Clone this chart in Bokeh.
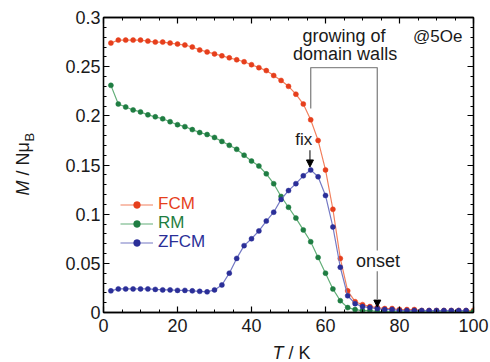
import math
from bokeh.plotting import figure
from bokeh.models import (LinearAxis, FixedTicker, Label, Arrow, NormalHead,
                          Legend, LegendItem, Range1d)
from bokeh.embed import file_html
from bokeh.resources import INLINE

# ---------------- data ----------------
T_fcm = [2, 4, 6, 8, 10, 12, 14, 16, 18, 20, 22, 24, 26, 28, 30, 32, 34, 36, 38, 40,
         42, 44, 46, 48, 50, 52, 54, 56, 58, 60, 62, 64, 66, 68, 70, 72, 74, 76, 78, 80,
         82, 84, 86, 88, 90, 92, 94, 96, 98, 100]
M_fcm = [0.274, 0.277, 0.277, 0.277, 0.277, 0.276, 0.275, 0.275, 0.274, 0.273,
         0.272, 0.270, 0.267, 0.265, 0.263, 0.261, 0.259, 0.257, 0.255, 0.252,
         0.249, 0.246, 0.241, 0.236, 0.230, 0.222, 0.212, 0.196, 0.175, 0.145,
         0.105, 0.055, 0.022, 0.011, 0.008, 0.006, 0.005, 0.004, 0.004, 0.003,
         0.003, 0.003, 0.002, 0.002, 0.002, 0.002, 0.002, 0.002, 0.002, 0.002]

T_rm = [2, 4, 6, 8, 10, 12, 14, 16, 18, 20, 22, 24, 26, 28, 30, 32, 34, 36, 38, 40,
        42, 44, 46, 48, 50, 52, 54, 56, 58, 60, 62, 64, 66, 68, 70, 72, 74, 76, 78, 80,
        82, 84, 86, 88, 90, 92, 94, 96, 98, 100]
M_rm = [0.231, 0.212, 0.209, 0.206, 0.204, 0.201, 0.199, 0.197, 0.194, 0.191,
        0.189, 0.186, 0.183, 0.181, 0.178, 0.174, 0.170, 0.166, 0.160, 0.154,
        0.149, 0.141, 0.131, 0.118, 0.107, 0.096, 0.084, 0.072, 0.056, 0.040,
        0.024, 0.012, 0.005, 0.003, 0.002, 0.002, 0.001, 0.001, 0.001, 0.001,
        0.001, 0.001, 0.001, 0.001, 0.001, 0.001, 0.001, 0.001, 0.001, 0.001]

T_zfcm = [2, 4, 6, 8, 10, 12, 14, 16, 18, 20, 22, 24, 26, 28, 30, 32, 34, 36, 38, 40,
          42, 44, 46, 48, 50, 52, 54, 56, 58, 60, 62, 64, 66, 68, 70, 72, 74, 76, 78, 80,
          82, 84, 86, 88, 90, 92, 94, 96, 98]
M_zfcm = [0.022, 0.024, 0.024, 0.024, 0.024, 0.024, 0.0235, 0.023, 0.023, 0.0225,
          0.0225, 0.022, 0.0215, 0.021, 0.023, 0.028, 0.040, 0.055, 0.068, 0.075,
          0.083, 0.093, 0.102, 0.115, 0.124, 0.131, 0.139, 0.145, 0.138, 0.119,
          0.087, 0.046, 0.017, 0.009, 0.006, 0.005, 0.004, 0.003, 0.003, 0.002,
          0.002, 0.002, 0.002, 0.002, 0.002, 0.002, 0.002, 0.002, 0.002]

x_ticks = [0, 20, 40, 60, 80, 100]
x_tick_labels = ["0", "20", "40", "60", "80", "100"]
y_ticks = [0, 0.05, 0.1, 0.15, 0.2, 0.25, 0.3]
y_tick_labels = ["0", "0.05", "0.1", "0.15", "0.2", "0.25", "0.3"]
x_minor = [5 * i for i in range(21)]
y_minor = [round(0.01 * i, 2) for i in range(31)]

series_names = ["FCM", "RM", "ZFCM"]
marker_colors = ["#e63f1c", "#1f7d42", "#2b2f98"]
line_colors = ["#f2805e", "#62ae78", "#7479c4"]

FONT = "Liberation Sans"
INK = "#1a1a1a"

# ---------------- figure ----------------
p = figure(width=490, height=362, output_backend="svg", toolbar_location=None,
           x_range=Range1d(0, 100), y_range=Range1d(0, 0.3),
           x_axis_type=None, y_axis_type=None,
           min_border_left=103, min_border_right=17, min_border_top=17, min_border_bottom=50)
p.grid.visible = False
p.outline_line_color = "black"
p.outline_line_width = 1.3
p.background_fill_color = "white"
p.border_fill_color = "white"


def make_axis(ticks, minor, labels, show, standoff=6):
    ax = LinearAxis(ticker=FixedTicker(ticks=ticks, minor_ticks=minor))
    ax.major_tick_in = 6
    ax.major_tick_out = 0
    ax.minor_tick_in = 3
    ax.minor_tick_out = 0
    ax.axis_line_color = "black"
    ax.axis_line_width = 1.3
    ax.major_tick_line_color = "black"
    ax.minor_tick_line_color = "black"
    ax.major_tick_line_width = 1.2
    ax.minor_tick_line_width = 1.0
    if show:
        ax.major_label_overrides = {t: l for t, l in zip(ticks, labels)}
        ax.major_label_text_font = FONT
        ax.major_label_text_font_size = "18px"
        ax.major_label_text_color = INK
        ax.major_label_standoff = standoff
    else:
        ax.major_label_overrides = {t: "" for t in ticks}
        ax.major_label_standoff = 0
    return ax


p.add_layout(make_axis(x_ticks, x_minor, x_tick_labels, True), "below")
p.add_layout(make_axis(y_ticks, y_minor, y_tick_labels, True, standoff=3), "left")
p.add_layout(make_axis(x_ticks, x_minor, x_tick_labels, False), "above")
p.add_layout(make_axis(y_ticks, y_minor, y_tick_labels, False), "right")

# ---------------- series ----------------
series = [(T_fcm, M_fcm), (T_rm, M_rm), (T_zfcm, M_zfcm)]
renderers = []
for (xs, ys), mc, lc in zip(series, marker_colors, line_colors):
    rl = p.line(xs, ys, line_color=lc, line_width=1.2)
    rs = p.scatter(xs, ys, size=5, fill_color=mc, line_color=mc, line_width=0.5)
    renderers.append([rl, rs])

# ---------------- legends (one per series so each text has its colour) ----------------
legend_y = [98, 79, 60]
for name, rs, col, ly in zip(series_names, renderers, marker_colors, legend_y):
    lg = Legend(items=[LegendItem(label=name, renderers=rs)], location=(17, ly),
                background_fill_alpha=0, border_line_alpha=0, padding=0, margin=0,
                spacing=0, glyph_width=33, glyph_height=17, label_height=17,
                label_standoff=5, label_text_font=FONT, label_text_font_size="17px",
                label_text_color=col)
    p.add_layout(lg)

# ---------------- annotations ----------------
GRAY = "#8c8c8c"
p.line([56, 56, 74, 74], [0.2075, 0.249, 0.249, 0.063], line_color=GRAY, line_width=1.4)
p.add_layout(Arrow(end=NormalHead(size=7, fill_color="black", line_color="black"),
                   x_start=74, y_start=0.042, x_end=74, y_end=0.0055,
                   line_color=GRAY, line_width=1.4))
p.add_layout(Arrow(end=NormalHead(size=7, fill_color="black", line_color="black"),
                   x_start=55.8, y_start=0.165, x_end=55.8, y_end=0.148,
                   line_color="black", line_width=1))


def lab(x, y, text, size="18px", align="center", **kw):
    p.add_layout(Label(x=x, y=y, text=text, text_font=FONT, text_font_size=size,
                       text_align=align, text_baseline="alphabetic", text_color=INK, **kw))


lab(65, 0.2813, "growing of")
lab(65.3, 0.2630, "domain walls")
lab(97, 0.2803, "@5Oe", size="17px", align="right")
lab(54.1, 0.1760, "fix", size="17px")
lab(74.2, 0.0519, "onset")

# axis titles: pieces (italic symbol, plain text, subscript) placed in data units but
# hosted by side panels, so they sit outside the frame without being clipped.
def title_piece(side, x, y, text, size, style="normal", angle=0.0):
    p.add_layout(Label(x=x, y=y, text=text, angle=angle, text_font=FONT,
                       text_font_size=size, text_font_style=style, text_align="left",
                       text_baseline="alphabetic", text_color=INK), side)


half = math.pi / 2
title_piece("below", 45.7, -0.0407, "T", "18px", "italic")
title_piece("left", 50.0, -0.0407, "/ K", "18px")
title_piece("left", -21.8, 0.119, "M", "18px", "italic", half)
title_piece("left", -21.8, 0.1394, "/ N\u03bc", "18px", "normal", half)
title_piece("right", -19.9, 0.1738, "B", "13px", "normal", half)

open("out.html", "w").write(file_html(p, INLINE))
